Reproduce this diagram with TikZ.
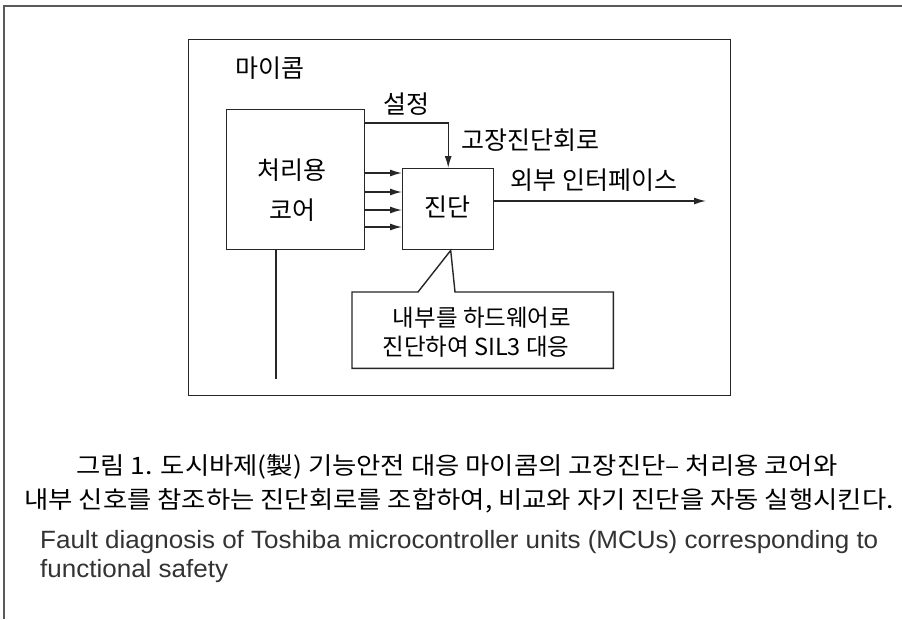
\documentclass[tikz,border=0pt]{standalone}
\usepackage{fontspec}
\setmainfont{Noto Sans CJK KR}
\newfontfamily\capfont[FakeStretch=1.1]{Noto Sans CJK KR}
\newfontfamily\engfont[FakeStretch=1.04]{Liberation Sans}
\usetikzlibrary{arrows.meta}
\begin{document}
\begin{tikzpicture}[x=1pt,y=-1pt,
  ln/.style={line width=1.4pt, draw=black!85},
  blk/.style={ln, anchor=north west, inner sep=0pt},
  arr/.style={ln, -{Latex[length=12pt,width=7pt]}},
  lbl/.style={inner sep=0pt, font=\fontsize{25}{28}\selectfont},
  notetxt/.style={inner sep=0pt, font=\fontsize{23.5}{28}\selectfont},
  captxt/.style={inner sep=0pt, font=\capfont\fontsize{24}{28}\selectfont},
  eng/.style={inner sep=0pt, anchor=west, text=black!80, font=\engfont\fontsize{25}{28}\selectfont}]
\useasboundingbox (0,0) rectangle (902,619);
\fill[white] (0,0) rectangle (902,619);
% outer frame
\draw[line width=2pt, draw=black!65] (4,619) -- (4,6) -- (902,6);
% microcontroller box
\node[blk, minimum width=542pt, minimum height=356pt] (mcu) at (188,39) {};
\node[lbl] (mcutxt) at (270,68) {마이콤};
% core
\node[blk, minimum width=138pt, minimum height=140pt] (core) at (226,109) {};
\node[lbl] (core1) at (292,170) {처리용};
\node[lbl] (core2) at (292,210) {코어};
% diagnosis
\node[blk, minimum width=91pt, minimum height=81pt] (diag) at (402,168) {};
\node[lbl] (diagtxt) at (447,207) {진단};
% setting line
\draw[arr] (core.east |- 0,123) -| (diag.north);
\node[lbl] (set) at (406,104) {설정};
\node[lbl] (fdc) at (530,140) {고장진단회로};
% four arrows
\foreach \yy in {173,192,210,227}{
  \draw[arr] (core.east |- 0,\yy) -- (diag.west |- 0,\yy);
}
% output
\coordinate (out) at (706,201);
\draw[arr] (diag.east |- out) -- (out);
\node[lbl] (ext) at (594,180) {외부 인터페이스};
% vertical line from core
\coordinate (vend) at (276,379);
\draw[ln] (core.south -| vend) -- (vend);
% callout
\node[anchor=north west, inner sep=0pt, minimum width=261pt, minimum height=76pt] (note) at (352,292) {};
\draw[ln, line join=miter] ([xshift=66pt]note.north west) -- (note.north west) -- (note.south west) -- (note.south east) -- (note.north east) -- ([xshift=103pt]note.north west) -- ([xshift=2.5pt]diag.south) -- cycle;
\node[notetxt] (n1) at (482,318) {내부를 하드웨어로};
\node[notetxt] (n2) at (476,347) {진단하여 SIL3 대응};
% caption
\node[captxt] (c1) at (457,467) {그림 1. 도시바제(製) 기능안전 대응 마이콤의 고장진단– 처리용 코어와};
\node[captxt] (c2) at (459,501) {내부 신호를 참조하는 진단회로를 조합하여, 비교와 자기 진단을 자동 실행시킨다.};
\node[eng] (e1) at (40,542) {Fault diagnosis of Toshiba microcontroller units (MCUs) corresponding to};
\node[eng] (e2) at (40,571) {functional safety};
\end{tikzpicture}
\end{document}
